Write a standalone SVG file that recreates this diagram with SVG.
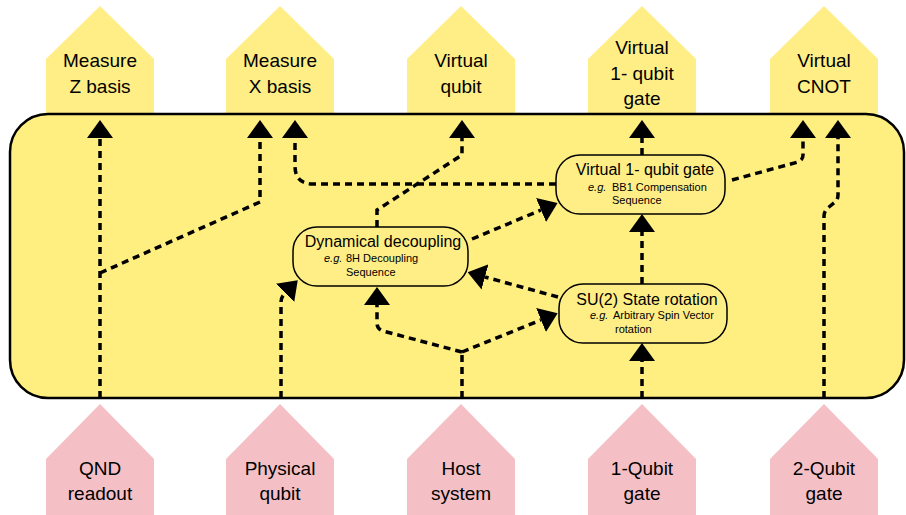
<svg xmlns="http://www.w3.org/2000/svg" width="906" height="515" viewBox="0 0 906 515">
<style>
.top{fill:#FFEE86}
.bot{fill:#F5C0C5}
.lbl{font-family:"Liberation Sans",Arial,sans-serif;font-size:19px;fill:#000;text-anchor:middle}
.node{fill:#FFEE86;stroke:#000;stroke-width:1.5}
.nt{font-family:"Liberation Sans",Arial,sans-serif;font-size:16px;fill:#000;text-anchor:middle}
.st{font-family:"Liberation Sans",Arial,sans-serif;font-size:11px;fill:#000}
.eg{font-style:italic}
.c{fill:none;stroke:#000;stroke-width:3.5;stroke-dasharray:7 5;marker-end:url(#ah)}
.cn{fill:none;stroke:#000;stroke-width:3.5;stroke-dasharray:7 5}
</style>
<defs>
<marker id="ah" viewBox="0 0 18 26" markerWidth="18" markerHeight="26" refX="0" refY="13" orient="auto" markerUnits="userSpaceOnUse">
<path d="M0,0 L18,13 L0,26 Z" fill="#000"/>
</marker>
</defs>

<g id="out-measure-z"><polygon class="top" points="46,120 46,59 100,6 154,59 154,120"/><text class="lbl" x="100" y="67">Measure</text><text class="lbl" x="100" y="93">Z basis</text></g>
<g id="out-measure-x"><polygon class="top" points="226,120 226,59 280,6 334,59 334,120"/><text class="lbl" x="280" y="67">Measure</text><text class="lbl" x="280" y="93">X basis</text></g>
<g id="out-virtual-qubit"><polygon class="top" points="407,120 407,59 461,6 515,59 515,120"/><text class="lbl" x="461" y="67">Virtual</text><text class="lbl" x="461" y="93">qubit</text></g>
<g id="out-virtual-1q"><polygon class="top" points="588,120 588,59 642,6 696,59 696,120"/><text class="lbl" x="642" y="54">Virtual</text><text class="lbl" x="642" y="80">1- qubit</text><text class="lbl" x="642" y="105">gate</text></g>
<g id="out-virtual-cnot"><polygon class="top" points="770,120 770,59 824,6 878,59 878,120"/><text class="lbl" x="824" y="67">Virtual</text><text class="lbl" x="824" y="93">CNOT</text></g>

<g id="in-qnd"><polygon class="bot" points="46,515 46,459 100,404 154,459 154,515"/><text class="lbl" x="100" y="475">QND</text><text class="lbl" x="100" y="500">readout</text></g>
<g id="in-physical"><polygon class="bot" points="226,515 226,459 280,404 334,459 334,515"/><text class="lbl" x="280" y="475">Physical</text><text class="lbl" x="280" y="500">qubit</text></g>
<g id="in-host"><polygon class="bot" points="407,515 407,459 461,404 515,459 515,515"/><text class="lbl" x="461" y="475">Host</text><text class="lbl" x="461" y="500">system</text></g>
<g id="in-1q"><polygon class="bot" points="588,515 588,459 642,404 696,459 696,515"/><text class="lbl" x="642" y="475">1-Qubit</text><text class="lbl" x="642" y="500">gate</text></g>
<g id="in-2q"><polygon class="bot" points="770,515 770,459 824,404 878,459 878,515"/><text class="lbl" x="824" y="475">2-Qubit</text><text class="lbl" x="824" y="500">gate</text></g>

<g id="container"><rect x="10" y="114" width="894" height="284" rx="38" ry="38" fill="#FFEE80" stroke="#000" stroke-width="2.5"/></g>

<g id="node-virtual-1q"><rect class="node" x="556" y="155" width="169" height="59" rx="24"/><text class="nt" x="645" y="175">Virtual 1- qubit gate</text><text class="st" y="190.5"><tspan class="eg" x="588">e.g.</tspan><tspan x="612">BB1 Compensation</tspan></text><text class="st" x="612" y="204">Sequence</text></g>
<g id="node-dd"><rect class="node" x="293" y="227" width="175" height="59" rx="24"/><text class="nt" x="383" y="247">Dynamical decoupling</text><text class="st" y="262"><tspan class="eg" x="324">e.g.</tspan><tspan x="346">8H Decoupling</tspan></text><text class="st" x="346" y="276">Sequence</text></g>
<g id="node-su2"><rect class="node" x="559" y="284" width="168" height="59" rx="24"/><text class="nt" x="647" y="305">SU(2) State rotation</text><text class="st" y="319"><tspan class="eg" x="590">e.g.</tspan><tspan x="613">Arbitrary Spin Vector</tspan></text><text class="st" x="615" y="333">rotation</text></g>

<g id="connectors">
<path class="c" d="M100,398 V138"/>
<path class="c" d="M100,273 L260,202 V138"/>
<path class="c" d="M281,398 V302 Q281,297 285,293"/>
<path class="c" d="M377,227 V210 L462,155 V138"/>
<path class="c" d="M556,184 H313 Q295,184 295,166 V138"/>
<path class="c" d="M472,239 L541,210"/>
<path class="c" d="M558,297 L485,277"/>
<path class="cn" d="M462,398 V352"/>
<path class="c" d="M462,352 L541,320"/>
<path class="c" d="M462,352 L383,331 Q377,329 377,323 V305"/>
<path class="c" d="M642,398 V361"/>
<path class="c" d="M642,284 V232"/>
<path class="c" d="M642,155 V138"/>
<path class="c" d="M732,180 L798,162 Q803,160 803,155 V138"/>
<path class="c" d="M824,398 V216 Q824,211 829,207 L834,203 Q838,200 838,195 V138"/>
</g>
</svg>
